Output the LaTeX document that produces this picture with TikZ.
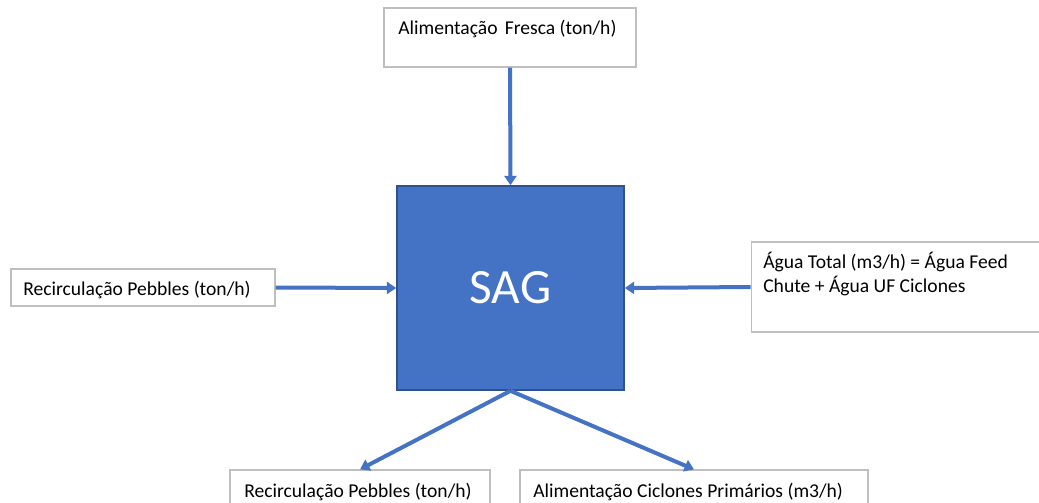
\documentclass[tikz,border=0pt]{standalone}
\usepackage{fontspec}
\setmainfont{Carlito}
\usetikzlibrary{arrows.meta}
\definecolor{sagblue}{HTML}{4472C4}
\definecolor{sagedge}{HTML}{2F528F}
\definecolor{boxline}{HTML}{BFBFBF}
\tikzstyle{flow} = [line width=3pt, sagblue, -{Triangle[width=9pt,length=7pt]}]
\tikzstyle{box} = [draw=boxline, line width=0.9pt, inner sep=0pt]
\tikzstyle{label text} = [inner sep=0pt, align=left, font=\fontsize{14.7pt}{18pt}\selectfont]

\begin{document}
\begin{tikzpicture}[x=0.75pt,y=-0.75pt]
\useasboundingbox (0,0) rectangle (1039,503);

% mill
\node (sag) [draw=sagedge, line width=1.2pt, fill=sagblue, minimum width=170.25pt, minimum height=153pt,
  text=white, font=\fontsize{37pt}{40pt}\selectfont] at (510.5,288) {SAG};

% boxes
\node (fresca) [box, minimum width=189pt, minimum height=44.25pt] at (510,37.5) {};
\node (pebin) [box, minimum width=198pt, minimum height=27.75pt] at (143,287.5) {};
\node (agua) [box, minimum width=224pt, minimum height=67.5pt] at (900.5,287) {};
\node (pebout) [box, minimum width=195pt, minimum height=33.75pt] at (360,492.5) {};
\node (ciclo) [box, minimum width=261pt, minimum height=33.75pt] at (694,492.5) {};

% texts
\node (frescatxt) [label text, anchor=base west] at (398,35) {Alimentação\hspace{2pt} Fresca (ton/h)};
\node (pebintxt) [label text, anchor=base west] at (23,295) {Recirculação Pebbles (ton/h)};
\node (aguatxt) [label text, anchor=base west] at (763,292) {Água Total (m3/h) = Água Feed\\Chute + Água UF Ciclones};
\node (pebouttxt) [label text, anchor=base west] at (244,497) {Recirculação Pebbles (ton/h)};
\node (ciclotxt) [label text, anchor=base west] at (533,497) {Alimentação Ciclones Primários (m3/h)};

% flows
\draw[flow] (fresca.south) -- (sag.north);
\draw[flow] (pebin.east) -- (sag.west);
\draw[flow] (agua.west) -- (sag.east);
\draw[flow] (sag.south) -- (pebout.north);
\draw[flow] (sag.south) -- (ciclo.north);
\end{tikzpicture}
\end{document}
